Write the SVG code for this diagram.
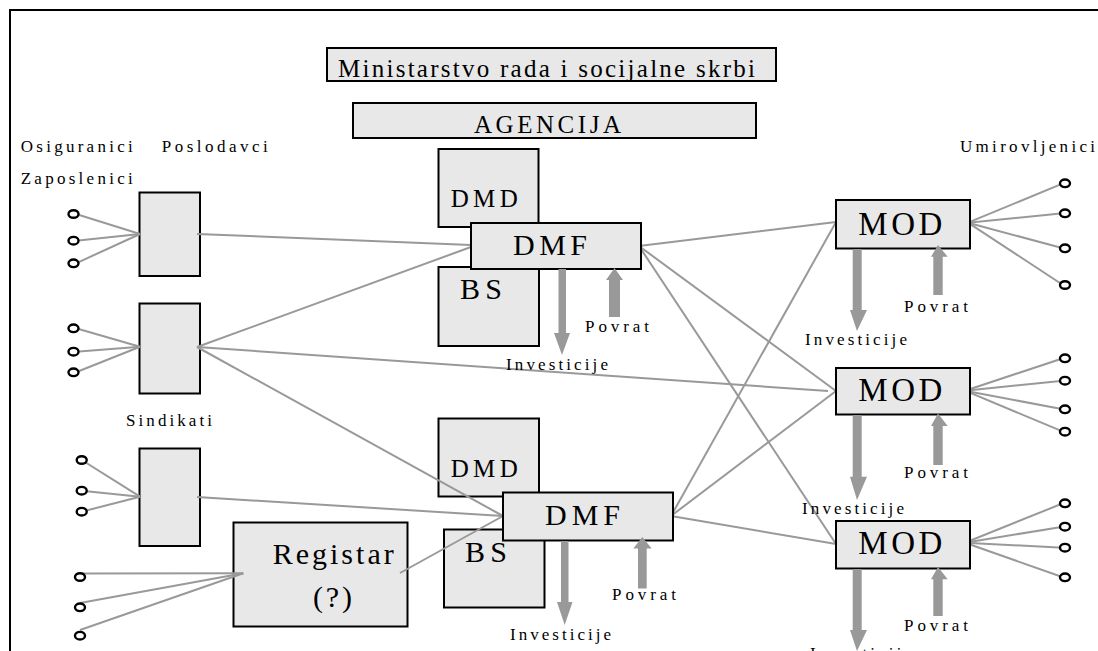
<svg xmlns="http://www.w3.org/2000/svg" width="1098" height="651" viewBox="0 0 1098 651">
<defs>
<style>
.box{fill:#e8e8e8;stroke:#000;stroke-width:2}
.ln{stroke:#999;stroke-width:2;fill:none}
.arr{fill:#999;stroke:none}
.dot{fill:#fff;stroke:#000;stroke-width:2.4}
text{font-family:"Liberation Serif","Times New Roman",serif;fill:#000}
.s{font-size:17px}
.m{font-size:25px}
.l{font-size:30px}
.xl{font-size:33px}
</style>
</defs>
<rect width="1098" height="651" fill="#fff"/>
<path d="M10,651 V10 H1098" fill="none" stroke="#000" stroke-width="2"/>

<g id="ministarstvo">
<rect class="box" x="327" y="48" width="449" height="33"/>
<text class="m" x="338" y="77" textLength="417" lengthAdjust="spacing">Ministarstvo rada i socijalne skrbi</text>
</g>
<g id="agencija">
<rect class="box" x="353" y="103" width="403" height="35"/>
<text class="m" x="474" y="132.5" textLength="147" lengthAdjust="spacing">AGENCIJA</text>
</g>

<g id="labels">
<text class="s" x="20.7" y="151.7" textLength="112" lengthAdjust="spacing">Osiguranici</text>
<text class="s" x="161.7" y="151.7" textLength="106" lengthAdjust="spacing">Poslodavci</text>
<text class="s" x="20.7" y="184" textLength="112" lengthAdjust="spacing">Zaposlenici</text>
<text class="s" x="960" y="151.7" textLength="135" lengthAdjust="spacing">Umirovljenici</text>
<text class="s" x="126" y="425.7" textLength="86" lengthAdjust="spacing">Sindikati</text>
</g>

<g id="dmd1"><rect class="box" x="438.5" y="149" width="100" height="78"/>
<text class="m" x="450.7" y="207" textLength="67" lengthAdjust="spacing">DMD</text></g>
<g id="bs1"><rect class="box" x="438.5" y="267" width="100.5" height="79"/>
<text class="l" x="460" y="299" textLength="42" lengthAdjust="spacing">BS</text></g>
<g id="dmd2"><rect class="box" x="438.5" y="418.5" width="100.5" height="78"/>
<text class="m" x="450.7" y="476.7" textLength="67" lengthAdjust="spacing">DMD</text></g>
<g id="bs2"><rect class="box" x="444" y="529.5" width="100.5" height="78"/>
<text class="l" x="465" y="561.7" textLength="42" lengthAdjust="spacing">BS</text></g>

<g id="box-poslodavci"><rect class="box" x="139.5" y="192.5" width="60.5" height="83.5"/></g>
<g id="box-sindikati"><rect class="box" x="139.5" y="303.5" width="60.5" height="90"/></g>
<g id="box-3"><rect class="box" x="139.5" y="448.5" width="60.5" height="97.5"/></g>
<g id="registar"><rect class="box" x="233.5" y="522.5" width="174" height="104"/>
<text class="l" x="272.7" y="564.3" textLength="121" lengthAdjust="spacing">Registar</text>
<text class="l" x="313" y="606.7" textLength="39" lengthAdjust="spacing">(?)</text></g>

<g id="connectors">
<line class="ln" x1="76" y1="214" x2="140" y2="234"/>
<line class="ln" x1="76" y1="240.7" x2="140" y2="234"/>
<line class="ln" x1="76" y1="263.3" x2="140" y2="234"/>
<line class="ln" x1="76" y1="328.3" x2="140" y2="346.7"/>
<line class="ln" x1="76" y1="351.7" x2="140" y2="346.7"/>
<line class="ln" x1="76" y1="372.3" x2="140" y2="346.7"/>
<line class="ln" x1="81.7" y1="460" x2="140" y2="496.7"/>
<line class="ln" x1="81.7" y1="490.7" x2="140" y2="496.7"/>
<line class="ln" x1="81.7" y1="511.7" x2="140" y2="496.7"/>
<line class="ln" x1="80" y1="573.5" x2="243.3" y2="573.3"/>
<line class="ln" x1="80" y1="603" x2="243.3" y2="573.3"/>
<line class="ln" x1="80" y1="630" x2="243.3" y2="573.3"/>

<line class="ln" x1="197" y1="234" x2="471" y2="245"/>
<line class="ln" x1="197" y1="347" x2="471" y2="247"/>
<line class="ln" x1="197" y1="347" x2="828" y2="391"/>
<line class="ln" x1="197" y1="347" x2="503" y2="516"/>
<line class="ln" x1="197" y1="497" x2="503" y2="516"/>
<line class="ln" x1="400" y1="573" x2="503" y2="516"/>
<line class="ln" x1="639" y1="246" x2="836" y2="222"/>
<line class="ln" x1="639" y1="246" x2="836" y2="391"/>
<line class="ln" x1="639" y1="246" x2="836" y2="544"/>
<line class="ln" x1="671" y1="516" x2="836" y2="222"/>
<line class="ln" x1="671" y1="516" x2="836" y2="391"/>
<line class="ln" x1="671" y1="516" x2="836" y2="544"/>

<line class="ln" x1="968" y1="222.7" x2="1063" y2="183.3"/>
<line class="ln" x1="968" y1="222.7" x2="1063" y2="213.3"/>
<line class="ln" x1="968" y1="222.7" x2="1063" y2="248.3"/>
<line class="ln" x1="968" y1="222.7" x2="1063" y2="285"/>
<line class="ln" x1="965" y1="390.7" x2="1063" y2="358.3"/>
<line class="ln" x1="965" y1="390.7" x2="1063" y2="380.7"/>
<line class="ln" x1="965" y1="390.7" x2="1063" y2="409.3"/>
<line class="ln" x1="965" y1="390.7" x2="1063" y2="431.7"/>
<line class="ln" x1="965" y1="542.7" x2="1063" y2="503.3"/>
<line class="ln" x1="965" y1="542.7" x2="1063" y2="526.7"/>
<line class="ln" x1="965" y1="542.7" x2="1063" y2="547.7"/>
<line class="ln" x1="965" y1="542.7" x2="1063" y2="577.3"/>
</g>

<g id="people">
<ellipse class="dot" cx="73.5" cy="214" rx="5" ry="3.8"/>
<ellipse class="dot" cx="73.5" cy="240.7" rx="5" ry="3.8"/>
<ellipse class="dot" cx="73.5" cy="263.3" rx="5" ry="3.8"/>
<ellipse class="dot" cx="73.5" cy="328.3" rx="5" ry="3.8"/>
<ellipse class="dot" cx="73.5" cy="351.7" rx="5" ry="3.8"/>
<ellipse class="dot" cx="73.5" cy="372.3" rx="5" ry="3.8"/>
<ellipse class="dot" cx="81.7" cy="460" rx="5" ry="3.8"/>
<ellipse class="dot" cx="81.7" cy="490.7" rx="5" ry="3.8"/>
<ellipse class="dot" cx="81.7" cy="511.7" rx="5" ry="3.8"/>
<ellipse class="dot" cx="80" cy="577" rx="5" ry="3.8"/>
<ellipse class="dot" cx="80" cy="607.3" rx="5" ry="3.8"/>
<ellipse class="dot" cx="80" cy="635.7" rx="5" ry="3.8"/>
<ellipse class="dot" cx="1065" cy="183.3" rx="5" ry="3.8"/>
<ellipse class="dot" cx="1065" cy="213.3" rx="5" ry="3.8"/>
<ellipse class="dot" cx="1065" cy="248.3" rx="5" ry="3.8"/>
<ellipse class="dot" cx="1065" cy="285" rx="5" ry="3.8"/>
<ellipse class="dot" cx="1065" cy="358.3" rx="5" ry="3.8"/>
<ellipse class="dot" cx="1065" cy="380.7" rx="5" ry="3.8"/>
<ellipse class="dot" cx="1065" cy="409.3" rx="5" ry="3.8"/>
<ellipse class="dot" cx="1065" cy="431.7" rx="5" ry="3.8"/>
<ellipse class="dot" cx="1065" cy="503.3" rx="5" ry="3.8"/>
<ellipse class="dot" cx="1065" cy="526.7" rx="5" ry="3.8"/>
<ellipse class="dot" cx="1065" cy="547.7" rx="5" ry="3.8"/>
<ellipse class="dot" cx="1065" cy="577.3" rx="5" ry="3.8"/>
</g>

<g id="dmf1">
<rect class="box" x="471" y="223" width="170" height="46"/>
<text class="l" x="513" y="255" textLength="74" lengthAdjust="spacing">DMF</text>
<polygon class="arr" points="558.5,269 566,269 566,333 570,333 562,355 554,333 558.5,333"/>
<polygon class="arr" points="614.5,268 623,280 620,280 620,317 609,317 609,280 606,280"/>
<text class="s" x="506" y="370" textLength="102" lengthAdjust="spacing">Investicije</text>
<text class="s" x="585" y="331.7" textLength="64" lengthAdjust="spacing">Povrat</text>
</g>

<g id="dmf2">
<rect class="box" x="503" y="492.5" width="170" height="48"/>
<text class="l" x="545" y="525" textLength="75" lengthAdjust="spacing">DMF</text>
<polygon class="arr" points="561,541 568.5,541 568.5,602 572.5,602 564.7,625 557,602 561,602"/>
<polygon class="arr" points="642.3,537 651.7,548.5 646.7,548.5 646.7,588.5 638,588.5 638,548.5 633.3,548.5"/>
<text class="s" x="510" y="640" textLength="101" lengthAdjust="spacing">Investicije</text>
<text class="s" x="612" y="600" textLength="64" lengthAdjust="spacing">Povrat</text>
</g>

<g id="mod1">
<rect class="box" x="836" y="200" width="134" height="48.5"/>
<text class="xl" x="858.3" y="235" textLength="84" lengthAdjust="spacing">MOD</text>
<polygon class="arr" points="852.7,249 861.7,249 861.7,310 867,310 857,331 850,310 852.7,310"/>
<polygon class="arr" points="938,245 947.7,256.7 942.7,256.7 942.7,295 933.3,295 933.3,256.7 931,256.7"/>
<text class="s" x="805" y="345" textLength="102" lengthAdjust="spacing">Investicije</text>
<text class="s" x="904" y="311.7" textLength="64" lengthAdjust="spacing">Povrat</text>
</g>

<g id="mod2">
<rect class="box" x="836" y="368" width="134" height="46.5"/>
<text class="xl" x="858.3" y="401" textLength="84" lengthAdjust="spacing">MOD</text>
<polygon class="arr" points="852.7,415 861.7,415 861.7,476.7 867,476.7 857,500 850,476.7 852.7,476.7"/>
<polygon class="arr" points="938,413.5 947.7,426 942.7,426 942.7,465 933.3,465 933.3,426 931,426"/>
<text class="s" x="802" y="514" textLength="102" lengthAdjust="spacing">Investicije</text>
<text class="s" x="904" y="478.3" textLength="64" lengthAdjust="spacing">Povrat</text>
</g>

<g id="mod3">
<rect class="box" x="836" y="521" width="134" height="47.5"/>
<text class="xl" x="858.3" y="554.3" textLength="84" lengthAdjust="spacing">MOD</text>
<polygon class="arr" points="852.7,569 861.7,569 861.7,630 867,630 857,651 850,630 852.7,630"/>
<polygon class="arr" points="938,567 947.7,579.3 942.7,579.3 942.7,616 933.3,616 933.3,579.3 931,579.3"/>
<text class="s" x="810" y="659" textLength="102" lengthAdjust="spacing">Investicije</text>
<text class="s" x="904" y="630.7" textLength="64" lengthAdjust="spacing">Povrat</text>
</g>
</svg>
